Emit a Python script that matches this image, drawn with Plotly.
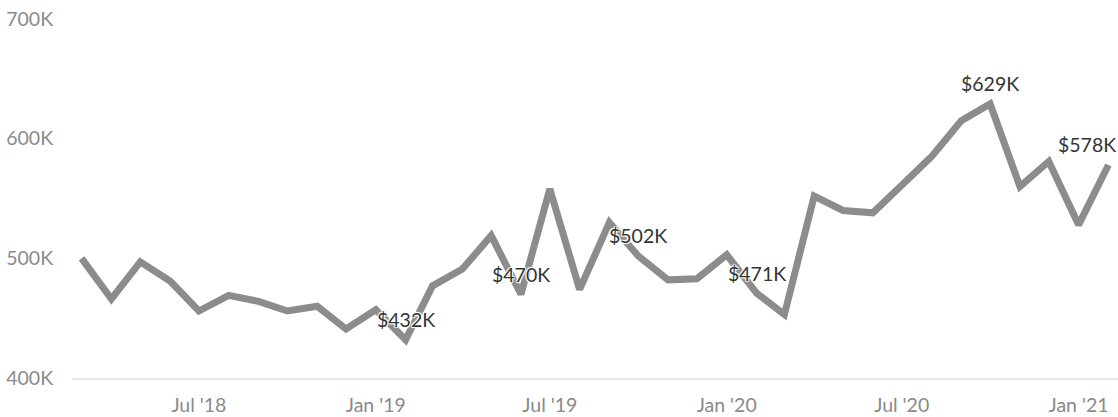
import plotly.graph_objects as go
import pandas as pd

months = pd.date_range("2018-03-01", "2021-02-01", freq="MS").strftime("%Y-%m-%d").tolist()
values = [500, 466, 497, 481, 456, 469, 464, 456, 460, 441,
          457, 432, 477, 491, 519, 470, 558, 474, 530, 502,
          482, 483, 503, 471, 453, 552, 540, 538, 561, 585,
          615, 629, 560, 581, 528, 578]
values_k = [v * 1000 for v in values]
labeled_months = ["2019-02-01", "2019-06-01", "2019-10-01", "2020-02-01", "2020-10-01", "2021-02-01"]
y_tick_vals = [400000, 500000, 600000, 700000]
y_tick_text = ["400K", "500K", "600K", "700K"]

fig = go.Figure()
fig.add_trace(go.Scatter(
    x=months, y=values_k, mode="lines",
    line=dict(color="#8c8c8c", width=7),
    hoverinfo="skip", showlegend=False,
))
for m, v in zip(months, values):
    if m in labeled_months:
        last = (m == months[-1])
        fig.add_annotation(
            x=m, y=v * 1000, text=f"${v}K", showarrow=False,
            xanchor="right" if last else "center", yanchor="middle",
            xshift=10 if last else 0, yshift=20,
            font=dict(family="Lato", size=19.5, color="#333333",
                      shadow="1px 1px 1px #fff, -1px -1px 1px #fff, 1px -1px 1px #fff, -1px 1px 1px #fff"),
        )
fig.update_layout(
    width=1118, height=417,
    margin=dict(l=72, r=0, t=19, b=39),
    paper_bgcolor="white", plot_bgcolor="white",
    font=dict(family="Lato", size=19.5, color="#8a8a8a"),
    xaxis=dict(
        type="date", range=["2018-02-19", "2021-02-11"],
        dtick="M6", tick0="2018-01-01", tickformat="%b '%y",
        showgrid=False, zeroline=False,
        showline=True, linecolor="#e8e8e8", linewidth=2,
        ticks="outside", ticklen=9, tickcolor="rgba(0,0,0,0)",
        tickfont=dict(family="Lato", size=19.5, color="#8a8a8a"),
    ),
    yaxis=dict(
        range=[400000, 700000], tickvals=y_tick_vals, ticktext=y_tick_text,
        showgrid=False, zeroline=False, showline=False,
        ticks="outside", ticklen=14, tickcolor="rgba(0,0,0,0)",
        tickfont=dict(family="Lato", size=19.5, color="#8a8a8a"),
    ),
)
fig.write_html("out.html", config={"displayModeBar": False},
               post_script="document.body.style.margin='0';document.body.style.padding='0';")
